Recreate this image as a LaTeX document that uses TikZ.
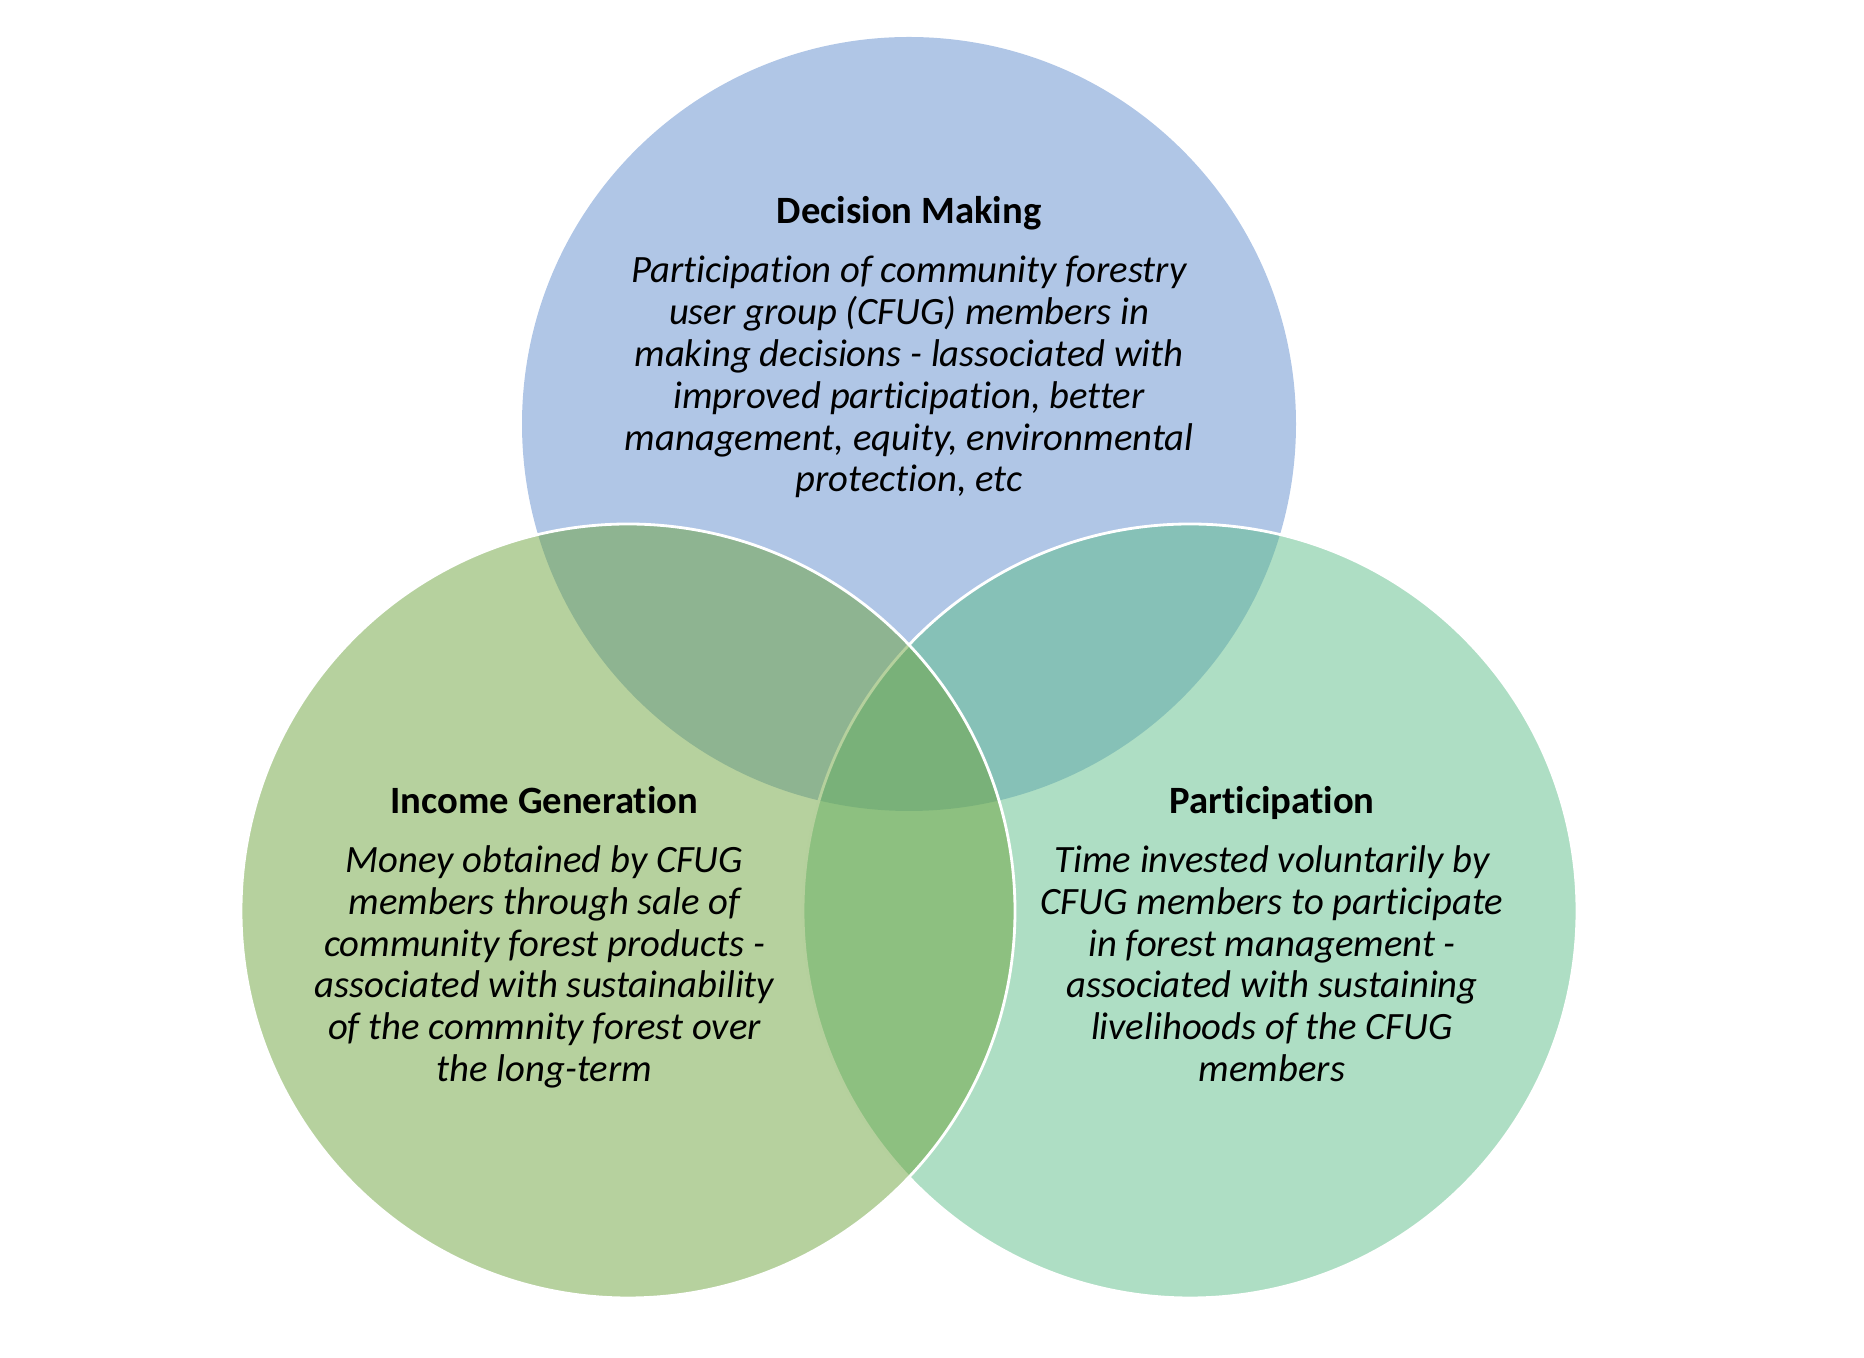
\documentclass[tikz,border=0pt]{standalone}
\usepackage{fontspec}
\setmainfont{Carlito}[Ligatures=NoCommon]
\usetikzlibrary{positioning}
\definecolor{dmblue}{RGB}{176,198,230}
\definecolor{igreen}{RGB}{109,163,61}
\definecolor{pgreen}{RGB}{93,189,137}
\tikzset{
  ctitle/.style={font=\fontsize{11}{11.9}\selectfont\bfseries, inner sep=0pt, anchor=base},
  ctext/.style={font=\fontsize{11}{11.9}\selectfont\itshape, align=center, inner sep=0pt},
  venn/.style={draw=white, line width=0.8pt, fill opacity=0.5}
}
\begin{document}
\begin{tikzpicture}
        \useasboundingbox (0,0) rectangle (18.64,-13.58);
        \coordinate (D) at (9.09,-4.24);  % decision making
        \coordinate (I) at (6.28,-9.11);  % income generation
        \coordinate (P) at (11.90,-9.11); % participation

        % circles, top one solid, the two lower ones see-through
        \fill[dmblue] (D) circle (3.87);
        \path[venn, fill=pgreen] (P) circle (3.87);
        \path[venn, fill=igreen] (I) circle (3.87);

        % top circle
        % (base of a multi-line node = last line, 6 lines below title)
        \node[ctitle] (dmtitle) at (9.09,-2.24) {Decision Making};
        \node[ctext, below=2.68cm of dmtitle.base, anchor=base] (dmtext) {Participation of community forestry\\
            user group (CFUG) members in\\
            making decisions - lassociated with\\
            improved participation, better\\
            management, equity, environmental\\
            protection, etc};

        % left circle
        \node[ctitle] (igtitle) at (5.445,-8.135) {Income Generation};
        \node[ctext, below=2.68cm of igtitle.base, anchor=base] (igtext) {Money obtained by CFUG\\
            members through sale of\\
            community forest products -\\
            associated with sustainability\\
            of the commnity forest over\\
            the long-term};

        % right circle
        \node[ctitle] (ptitle) at (12.72,-8.135) {Participation};
        \node[ctext, below=2.68cm of ptitle.base, anchor=base] (ptext) {Time invested voluntarily by\\
            CFUG members to participate\\
            in forest management -\\
            associated with sustaining\\
            livelihoods of the CFUG\\
            members};

    \end{tikzpicture}
\end{document}
